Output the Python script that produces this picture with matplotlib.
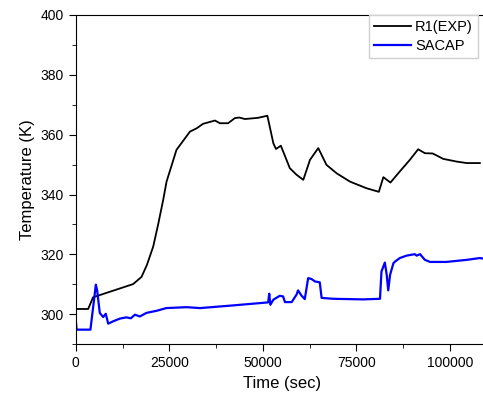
import matplotlib.pyplot as plt
from matplotlib.ticker import MultipleLocator

plt.rcParams['font.family'] = ['Liberation Sans', 'DejaVu Sans']

# R1 (experiment) readings
exp_time = [0, 3300, 4600, 15300, 17560, 19000, 20700, 22000, 23350, 24250, 26900, 30500, 32300,
            34000, 37200, 38500, 40700, 42500, 43700, 45200, 48700, 51200, 52800,
            53500, 54800, 57200, 59000, 60800, 62600, 64800, 67000, 69700, 73300,
            77700, 81000, 82200, 84100, 86600, 89300, 91500, 93300, 95400, 98200,
            101800, 104500, 108000]
exp_temp = [301.8, 301.8, 305.7, 310.1, 312.5, 316.5, 322.7, 330.0, 338.2, 344.3, 354.9, 361.0, 362.1,
            363.6, 364.7, 363.8, 363.8, 365.5, 365.7, 365.2, 365.6, 366.3, 357.1,
            355.2, 356.3, 348.8, 346.6, 344.9, 351.6, 355.5, 349.9, 347.1, 344.3,
            342.1, 340.9, 345.8, 344.0, 347.7, 351.6, 355.1, 353.8, 353.7, 351.9,
            351.0, 350.5, 350.5]

# SACAP results
sim_time = [0, 200, 3900, 5350, 5700, 6400, 7300, 8000, 8650, 10000, 11800, 13500,
            14700, 15800, 17100, 18900, 21600, 24200, 29600, 33200, 42100, 51400,
            51700, 52000, 52800, 54500, 55400, 55900, 57700, 59000, 59400, 60300,
            61200, 62100, 63000, 63900, 65200, 65700, 68800, 76800, 81300, 81700,
            82600, 83100, 83500, 84000, 84900, 85300, 86600, 88400, 90600, 91100,
            92000, 93300, 94700, 99000, 104500, 108000, 110000]
sim_temp = [298.0, 294.9, 294.9, 309.9, 308.0, 300.5, 299.1, 300.2, 296.9, 297.7, 298.6, 299.0,
            298.7, 299.9, 299.3, 300.5, 301.2, 302.1, 302.4, 302.1, 303.0, 304.0,
            306.9, 303.2, 304.9, 306.2, 306.0, 304.1, 304.1, 306.6, 308.0, 306.3,
            305.1, 312.1, 311.8, 311.0, 310.7, 305.5, 305.2, 305.0, 305.2, 314.3,
            317.3, 313.2, 308.0, 313.2, 317.1, 317.6, 318.8, 319.6, 320.1, 319.6,
            320.1, 318.2, 317.5, 317.5, 318.2, 318.8, 318.4]

fig = plt.figure(figsize=(4.83, 3.99), dpi=100)
ax = fig.add_axes([0.157, 0.137, 0.852, 0.826])

ax.plot(exp_time, exp_temp, color='black', lw=1.3, label='R1(EXP)')
ax.plot(sim_time, sim_temp, color='#0000ff', lw=1.6, label='SACAP')

ax.set_xlim(0, 110000)
ax.set_ylim(290, 400)
ax.xaxis.set_major_locator(MultipleLocator(25000))
ax.xaxis.set_minor_locator(MultipleLocator(12500))
ax.yaxis.set_major_locator(MultipleLocator(20))
ax.yaxis.set_minor_locator(MultipleLocator(10))
ax.tick_params(which='both', direction='out', top=False, right=False, labelsize=10)
ax.tick_params(which='major', length=5)
ax.tick_params(which='minor', length=3)

ax.set_xlabel('Time (sec)', fontsize=12)
ax.set_ylabel('Temperature (K)', fontsize=12)

fig.legend(loc='upper left', bbox_to_anchor=(369 / 483, 1 - 15 / 399),
           bbox_transform=fig.transFigure, fontsize=10.5, handlelength=2.5,
           borderaxespad=0, borderpad=0.35, labelspacing=0.35, handletextpad=0.3,
           fancybox=False, edgecolor='#d0d0d0', framealpha=1)

fig.savefig('out.png', dpi=100)
